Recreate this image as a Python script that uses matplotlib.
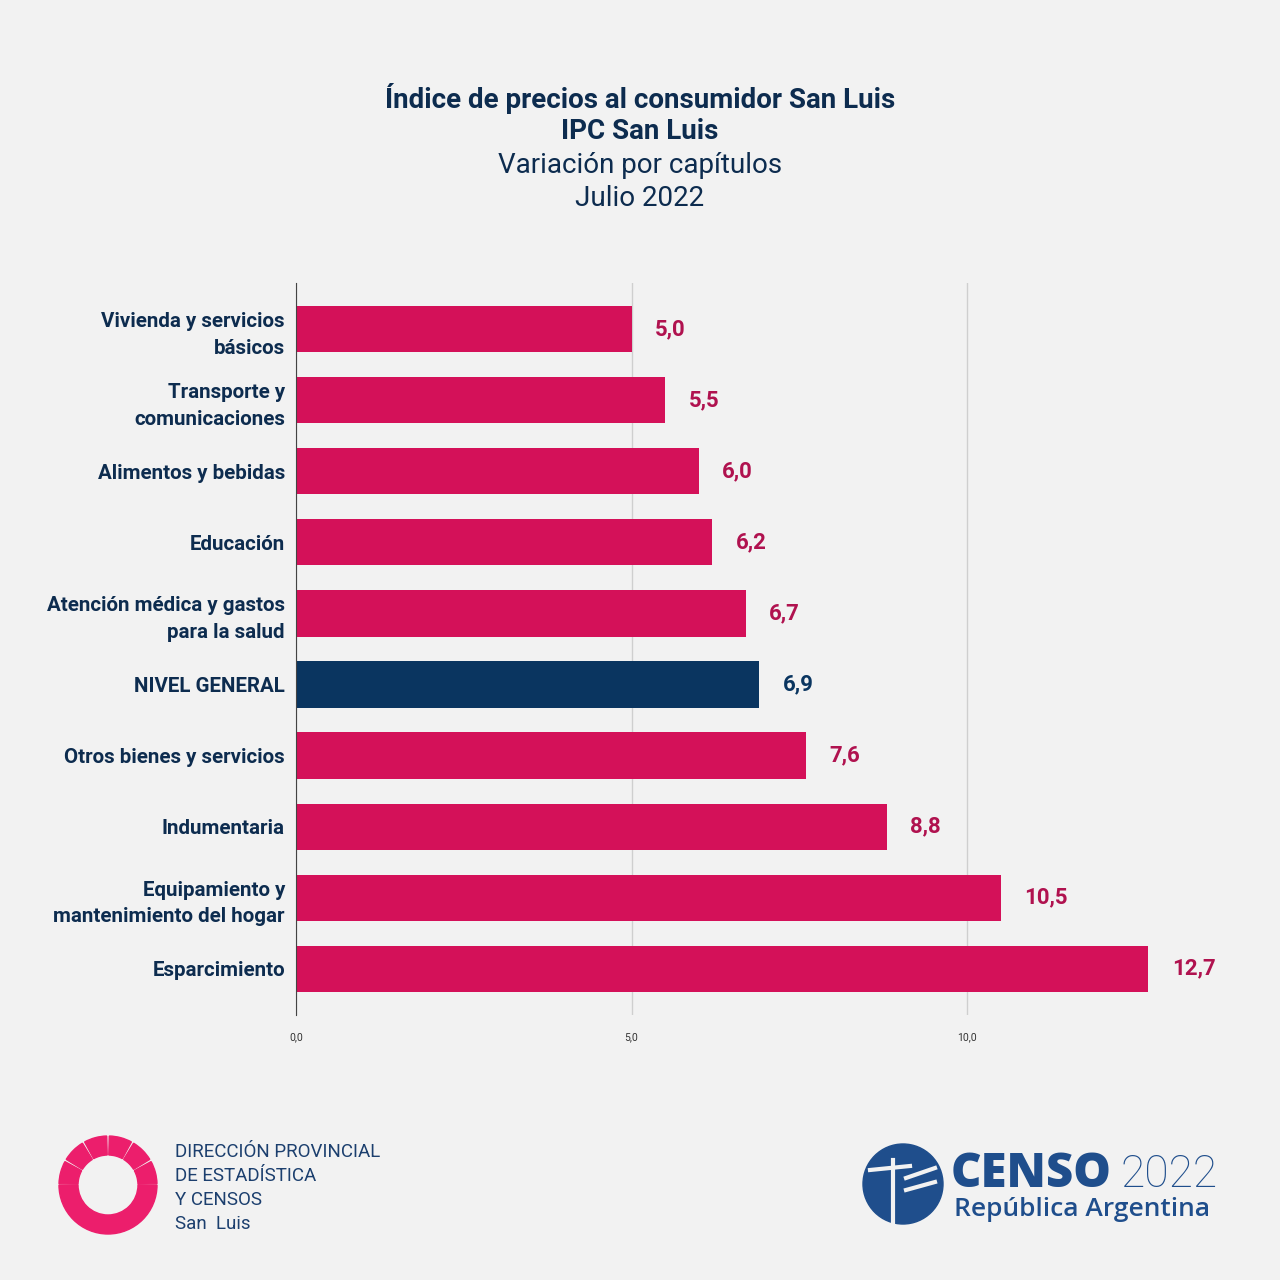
import numpy as np
import matplotlib.pyplot as plt
from matplotlib.patches import Wedge, Circle

# Datos
categorias = ["Vivienda y servicios\nbásicos", "Transporte y\ncomunicaciones",
              "Alimentos y bebidas", "Educación",
              "Atención médica y gastos\npara la salud", "NIVEL GENERAL",
              "Otros bienes y servicios", "Indumentaria",
              "Equipamiento y\nmantenimiento del hogar", "Esparcimiento"]
valores = [5.0, 5.5, 6.0, 6.2, 6.7, 6.9, 7.6, 8.8, 10.5, 12.7]
ticks = [0.0, 5.0, 10.0]

fondo = "#f2f2f2"
rosa = "#d41159"
azul = "#0a3560"
rosa_txt = "#b0124f"

plt.rcParams['font.family'] = ['Roboto', 'DejaVu Sans']

fig = plt.figure(figsize=(12.8, 12.8), dpi=100, facecolor=fondo)
ax = fig.add_axes([0.23125, 0.207, 0.734, 0.572], facecolor=fondo)

y = np.arange(len(categorias))
colores = [azul if c == "NIVEL GENERAL" else rosa for c in categorias]
ax.barh(y, valores, height=0.65, color=colores, zorder=3)

for yi, v, c in zip(y, valores, colores):
    col = azul if c == azul else rosa_txt
    ax.annotate(f"{v:.1f}".replace(".", ","), (v, yi), xytext=(17, 0),
                textcoords="offset points", va="center", ha="left",
                fontsize=16, fontweight="bold", color=col)

ax.set_ylim(9.65, -0.65)
ax.set_xlim(0, 14)
ax.set_yticks(y)
ax.set_yticklabels(categorias, fontsize=14.8, fontweight="bold", color="#0d2c4f",
                   linespacing=1.5)
ax.set_xticks(ticks)
ax.set_xticklabels([f"{t:.1f}".replace(".", ",") for t in ticks], fontsize=7.5,
                   color="#333333")
ax.tick_params(axis="both", length=0)
ax.tick_params(axis="x", pad=12)
ax.tick_params(axis="y", pad=8)
ax.xaxis.grid(True, color="#cfcfcf", lw=1, zorder=0)
for s in ["top", "right", "bottom"]:
    ax.spines[s].set_visible(False)
ax.spines["left"].set_color("#444444")
ax.spines["left"].set_zorder(4)

# Titulo
fig.text(0.5, 0.923, "Índice de precios al consumidor San Luis", ha="center", va="center",
         fontsize=20, fontweight="bold", color="#0d2c4f")
fig.text(0.5, 0.897, "IPC San Luis", ha="center", va="center",
         fontsize=20, fontweight="bold", color="#0d2c4f")
fig.text(0.5, 0.871, "Variación por capítulos", ha="center", va="center",
         fontsize=20, color="#0d2c4f")
fig.text(0.5, 0.845, "Julio 2022", ha="center", va="center",
         fontsize=20, color="#0d2c4f")

# Logos
lx = fig.add_axes([0, 0, 1, 1], facecolor="none")
lx.set_xlim(0, 1280)
lx.set_ylim(1280, 0)
lx.axis("off")

cx, cy = 108, 1185
lx.add_patch(Wedge((cx, cy), 49, 0, 180, width=19, color="#ec1e6c"))
# parte superior en segmentos (ejes invertidos)
for a in np.linspace(180, 360, 7)[:-1]:
    lx.add_patch(Wedge((cx, cy), 49, a + 1.5, a + 28.5, width=19, color="#ec1e6c"))

for i, t in enumerate(["DIRECCIÓN PROVINCIAL", "DE ESTADÍSTICA", "Y CENSOS", "San  Luis"]):
    lx.text(175, 1152 + i * 24, t, fontsize=13.5, color="#1c3f6e", va="center", ha="left")

lx.add_patch(Circle((903, 1184), 40, color="#1f4e8c"))
lx.plot([893, 893], [1160, 1222], color=fondo, lw=3)
lx.plot([870, 910], [1170, 1166], color=fondo, lw=3)
lx.plot([906, 935], [1178, 1168], color=fondo, lw=3)
lx.plot([906, 935], [1190, 1182], color=fondo, lw=3)
lx.text(951, 1175, "CENSO", fontsize=34, fontweight="heavy", color="#1f4e8c",
        va="center", ha="left", family="Open Sans")
lx.text(1218, 1175, "2022", fontsize=32, fontweight="light", color="#1f4e8c",
        va="center", ha="right")
lx.text(954, 1209, "República Argentina", fontsize=19, fontweight="semibold",
        color="#1f4e8c", va="center", ha="left", family="Open Sans")

fig.savefig("out.png", dpi=100, facecolor=fondo)
